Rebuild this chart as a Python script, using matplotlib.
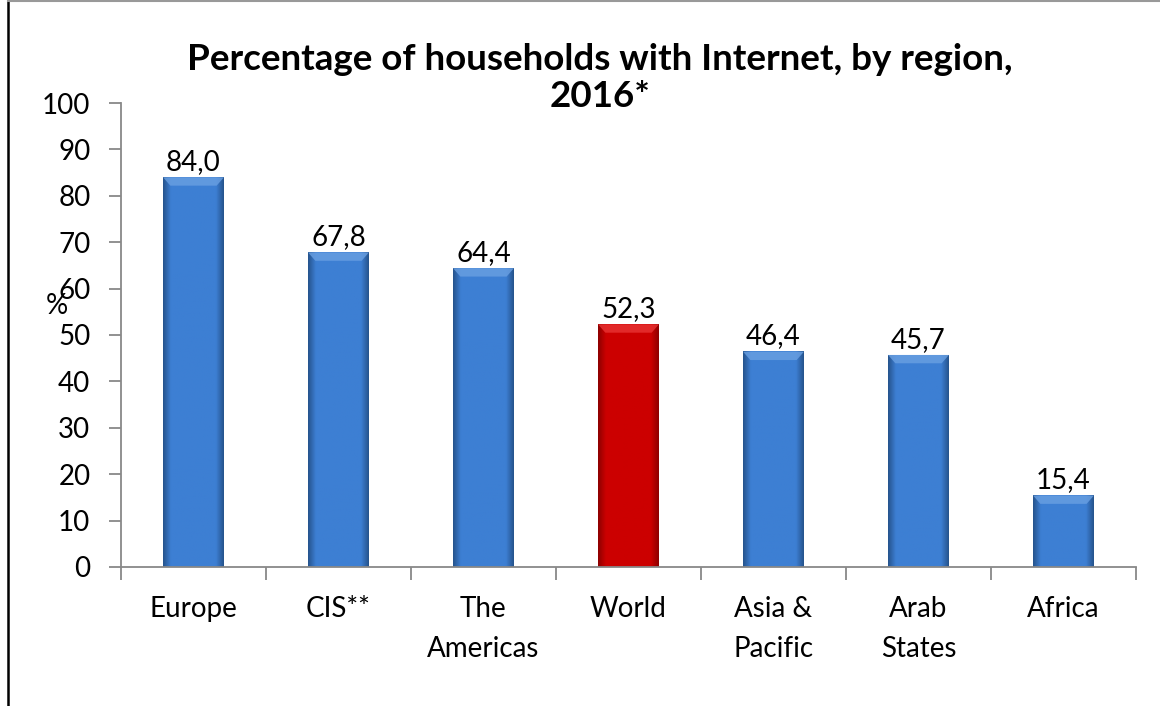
import numpy as np
import matplotlib
matplotlib.use("Agg")
import matplotlib.pyplot as plt
from matplotlib.patches import Polygon

regions = ["Europe", "CIS**", "The\nAmericas", "World", "Asia &\nPacific", "Arab\nStates", "Africa"]
values = [84.0, 67.8, 64.4, 52.3, 46.4, 45.7, 15.4]
highlight = "World"
yticks = list(range(0, 101, 10))

plt.rcParams["font.family"] = ["Lato", "DejaVu Sans"]

BLUE_MID, BLUE_EDGE, BLUE_TOP = "#3d7fd3", "#26558f", "#6aa0e2"
RED_MID, RED_EDGE, RED_TOP = "#cc0000", "#900000", "#e83434"

fig = plt.figure(figsize=(11.6, 7.06), dpi=100)
ax = fig.add_axes([0.1043, 0.197, 0.875, 0.657])

x = np.arange(len(regions))
bars = ax.bar(x, values, width=0.42, color=BLUE_MID, zorder=2)

# bevelled look: horizontal shading across each bar plus a lighter top cap
for b, name in zip(bars, regions):
    red = name == highlight
    mid, edge, top = (RED_MID, RED_EDGE, RED_TOP) if red else (BLUE_MID, BLUE_EDGE, BLUE_TOP)
    b.set_facecolor(mid)
    x0, w, h = b.get_x(), b.get_width(), b.get_height()
    c_mid = np.array(matplotlib.colors.to_rgb(mid))
    c_edge = np.array(matplotlib.colors.to_rgb(edge))
    t = np.linspace(-1, 1, 60)
    k = np.clip((np.abs(t) - 0.75) / 0.25, 0, 1)[:, None]
    row = c_mid * (1 - k) + c_edge * k
    img = np.repeat(row[None, :, :], 2, axis=0)
    ax.imshow(img, extent=(x0, x0 + w, 0, h), aspect="auto", zorder=2.1,
              interpolation="bilinear")
    cap = 1.8
    ax.add_patch(Polygon([(x0, h), (x0 + w, h), (x0 + w * 0.88, h - cap), (x0 + w * 0.12, h - cap)],
                         closed=True, facecolor=top, edgecolor="none", alpha=0.8, zorder=2.2))
    ax.text(x0 + w / 2, h + 0.5, f"{h:.1f}".replace(".", ","),
            ha="center", va="bottom", fontsize=20, zorder=3)

ax.set_xlim(-0.5, len(regions) - 0.5)
ax.set_ylim(0, 100)
ax.set_yticks(yticks)
ax.set_yticklabels([str(v) for v in yticks], fontsize=20)
ax.set_xticks(x)
ax.set_xticklabels(regions, fontsize=20, va="top", linespacing=1.65)
ax.set_xticks(np.arange(len(regions) + 1) - 0.5, minor=True)
ax.tick_params(axis="x", which="major", length=0, pad=21)
ax.tick_params(axis="x", which="minor", length=9, color="#888888", width=1.3)
ax.tick_params(axis="y", length=9, color="#888888", width=1.3, pad=13)

for side in ("top", "right"):
    ax.spines[side].set_visible(False)
for side in ("left", "bottom"):
    ax.spines[side].set_color("#888888")
    ax.spines[side].set_linewidth(1.3)

ax.text(-0.063, 0.5625, "%", transform=ax.transAxes, fontsize=20, ha="center", va="center")

fig.text(0.517, 0.89, "Percentage of households with Internet, by region,\n2016*",
         ha="center", va="center", fontsize=26.5, fontweight="bold", linespacing=1.15)

# chart frame
fig.add_artist(plt.Line2D([8 / 1160, 8 / 1160], [0, 1], color="black", lw=1.8,
                          transform=fig.transFigure))
fig.add_artist(plt.Line2D([8 / 1160, 1], [0.999, 0.999], color="#999999", lw=1.5,
                          transform=fig.transFigure))

fig.savefig("out.png", dpi=100)
